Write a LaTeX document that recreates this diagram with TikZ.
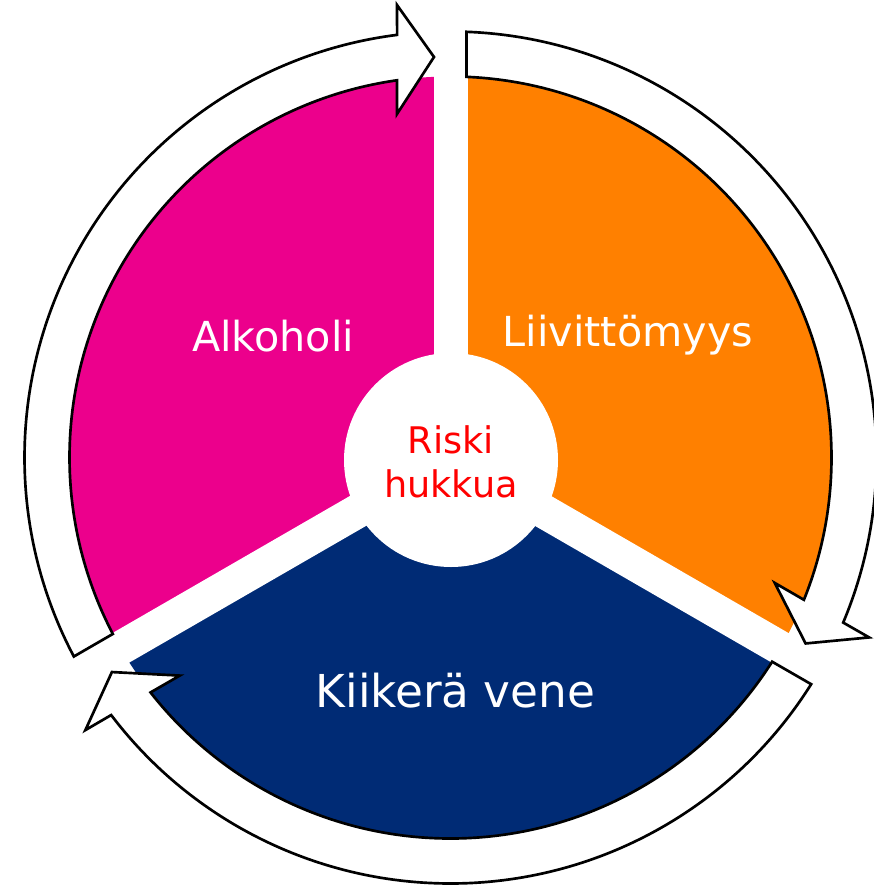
\documentclass[tikz,border=0pt]{standalone}
\usepackage{fontspec}
\setmainfont{DejaVu Sans}
\definecolor{pinkseg}{HTML}{EC008C}
\definecolor{orangeseg}{HTML}{FF8000}
\definecolor{blueseg}{HTML}{002B75}
\definecolor{riskred}{HTML}{FF0000}

\begin{document}
\begin{tikzpicture}[x=0.75pt,y=0.75pt,yscale=-1,xscale=1,
	seglabel/.style={text=white,font=\fontsize{31}{37}\selectfont,inner sep=0pt,anchor=base},
	risklabel/.style={text=riskred,font=\fontsize{27.5}{33}\selectfont,inner sep=0pt,anchor=base},
	gapline/.style={white,line width=25.5pt},
	ringarrow/.style={draw=black,fill=white,line width=2pt,line join=miter}]
	\useasboundingbox (0,0) rectangle (874,889);
	\begin{scope}[shift={(450.5,457.5)}]
	% sectors
	\fill[pinkseg] (0,0) -- (-90:381) arc[start angle=-90, end angle=-210, radius=381] -- cycle;
	\fill[orangeseg] (0,0) -- (-90:381) arc[start angle=-90, end angle=30, radius=381] -- cycle;
	\fill[blueseg] (0,0) -- (30:381) arc[start angle=30, end angle=150, radius=381] -- cycle;
	% gaps and hub
	\foreach \a in {-90,30,150}
		\draw[gapline] (0,0) -- (\a:395);
	\fill[white] (0.5,2.5) circle[radius=107];
	% ring arrows
	\foreach \rot in {0,120,240}
		\draw[ringarrow,rotate=\rot] (152.15:426) arc[start angle=152.15, end angle=262.8, radius=426] -- (-53.5,-452.5) -- (-16.5,-400.5) -- (-53.5,-343.5) -- (261.93:381) arc[start angle=261.93, end angle=152.41, radius=381] -- cycle;
	% labels
	\node[seglabel] (alkoholi) at (-177.5,-106.5) {Alkoholi};
	\node[seglabel] (liivittomyys) at (177.5,-111.5) {Liivittömyys};
	\node[seglabel,font=\fontsize{34}{40}\selectfont] (vene) at (5,249.5) {Kiikerä vene};
	\node[risklabel] (riski) at (0.5,-4.5) {Riski};
	\node[risklabel] (hukkua) at (0.5,39.5) {hukkua};
	\end{scope}
\end{tikzpicture}
\end{document}
